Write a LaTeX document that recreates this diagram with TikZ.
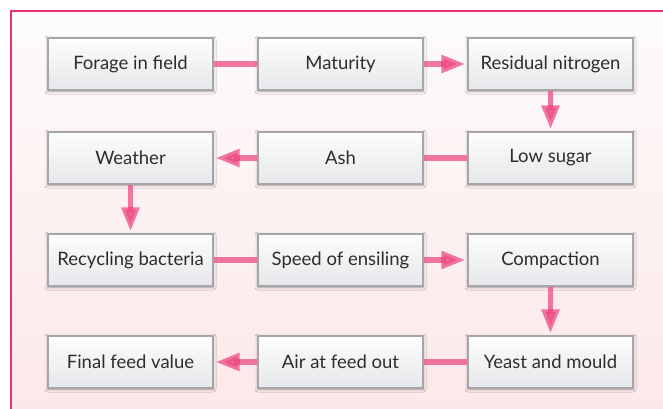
\documentclass[tikz,border=0pt]{standalone}
\usepackage{fontspec}
\setmainfont{Lato}
\usetikzlibrary{arrows.meta,shadows.blur,calc}
\definecolor{frame}{RGB}{232,50,105}
\definecolor{bgtop}{RGB}{253,251,251}
\definecolor{bgbot}{RGB}{252,232,232}
\definecolor{boxtop}{RGB}{253,253,253}
\definecolor{boxbot}{RGB}{230,231,234}
\definecolor{boxline}{RGB}{165,166,170}
\definecolor{link}{RGB}{236,76,132}
\definecolor{txt}{RGB}{45,45,45}
\tikzset{
  stepbox/.style={draw=boxline, line width=1.2pt, top color=boxtop, bottom color=boxbot,
    minimum width=165pt, minimum height=52pt, inner sep=0pt, text=txt,
    font=\fontsize{18.5}{20}\selectfont,
    blur shadow={shadow xshift=0pt, shadow yshift=-1pt, shadow blur radius=3pt, shadow opacity=35}},
  plainlink/.style={draw=link, line width=5.5pt, opacity=0.75},
  arrowlink/.style={draw=link, line width=5.5pt, opacity=0.75,
    -{Triangle[length=24pt,width=17pt]}, shorten >=2pt},
  bandlink/.style={draw=link, line width=5.5pt, opacity=0.75},
}
\newcommand{\linkarrow}[2]{%
  \draw[arrowlink] (#1) -- (#2);
  \draw[bandlink] ($(#2)!26pt!(#1)$) -- ($(#2)!21pt!(#1)$);}
\begin{document}
\begin{tikzpicture}[x=1pt,y=-1pt]
\useasboundingbox (0,0) rectangle (663,409);
\fill[bottom color=bgbot, top color=bgtop] (11,11) rectangle (663,409);
\draw[frame, line width=1.2pt] (11,409) -- (11,11) -- (663,11);

\node[stepbox] (a1) at (130.5,64) {Forage in field};
\node[stepbox] (a2) at (340.5,64) {Maturity};
\node[stepbox] (a3) at (550.5,64) {Residual nitrogen};
\node[stepbox] (b3) at (550.5,158) {Low sugar};
\node[stepbox] (b2) at (340.5,158) {Ash};
\node[stepbox] (b1) at (130.5,158) {Weather};
\node[stepbox] (c1) at (130.5,260) {Recycling bacteria};
\node[stepbox] (c2) at (340.5,260) {Speed of ensiling};
\node[stepbox] (c3) at (550.5,260) {Compaction};
\node[stepbox] (d3) at (550.5,362) {Yeast and mould};
\node[stepbox] (d2) at (340.5,362) {Air at feed out};
\node[stepbox] (d1) at (130.5,362) {Final feed value};

\draw[plainlink] (a1) -- (a2);
\linkarrow{a2.east}{a3.west}
\linkarrow{a3.south}{b3.north}
\draw[plainlink] (b3) -- (b2);
\linkarrow{b2.west}{b1.east}
\linkarrow{b1.south}{c1.north}
\draw[plainlink] (c1) -- (c2);
\linkarrow{c2.east}{c3.west}
\linkarrow{c3.south}{d3.north}
\draw[plainlink] (d3) -- (d2);
\linkarrow{d2.west}{d1.east}
\end{tikzpicture}
\end{document}
